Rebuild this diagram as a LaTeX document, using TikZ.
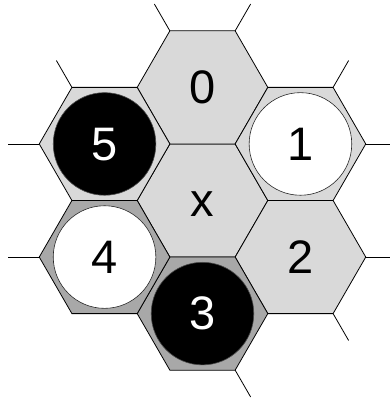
\documentclass[tikz,border=0pt]{standalone}
\usepackage{fontspec}
\setmainfont{Liberation Sans}
\usetikzlibrary{shapes.geometric,calc}
\definecolor{hexlight}{HTML}{D9D9D9}
\definecolor{hexdark}{HTML}{A8A8A8}
\begin{document}
\begin{tikzpicture}[x=1pt,y=1pt,
  hexcell/.style={regular polygon, regular polygon sides=6, minimum size=130.6pt,
    inner sep=0pt, outer sep=0pt, draw=black, line width=0.8pt, fill=hexlight,
    font=\fontsize{47}{47}\selectfont},
  darkcell/.style={hexcell, fill=hexdark},
  blackdisc/.style={circle, minimum size=102.6pt, inner sep=0pt, fill=black,
    draw=black!70, line width=0.6pt, text=white, font=\fontsize{47}{47}\selectfont},
  whitedisc/.style={circle, minimum size=102.6pt, inner sep=0pt, fill=white,
    draw=black!85, line width=0.6pt, text=black, font=\fontsize{47}{47}\selectfont},
  stub/.style={draw=black, line width=0.8pt}]
\useasboundingbox (0,0) rectangle (390,399);
\clip (0,0) rectangle (390,399);
% hexagonal cells
\node[hexcell]  (hexx) at (202.5,198.5) {\vphantom{0}x};
\node[hexcell]  (hex0) at (202.5,311.6) {\vphantom{0}0};
\node[hexcell]  (hex1) at (300.45,255.05) {};
\node[hexcell]  (hex2) at (300.45,141.95) {\vphantom{0}2};
\node[darkcell] (hex3) at (202.5,85.4) {};
\node[darkcell] (hex4) at (104.55,141.95) {};
\node[hexcell]  (hex5) at (104.55,255.05) {};
% stubs at outer corners
\foreach \h/\a in {hex0/120, hex0/60, hex5/120, hex5/180, hex4/180,
                   hex1/60, hex1/0, hex2/0, hex2/300, hex3/300}{
  \draw[stub] ($(\h.center)+(\a:65.3pt)$) -- ($(\h.center)+(\a:96.3pt)$);
}
% stones
\node[blackdisc] (disc5) at (hex5.center) {\vphantom{0}5};
\node[whitedisc] (disc1) at (hex1.center) {\vphantom{0}1};
\node[whitedisc] (disc4) at (hex4.center) {\vphantom{0}4};
\node[blackdisc] (disc3) at (hex3.center) {\vphantom{0}3};
\end{tikzpicture}
\end{document}
